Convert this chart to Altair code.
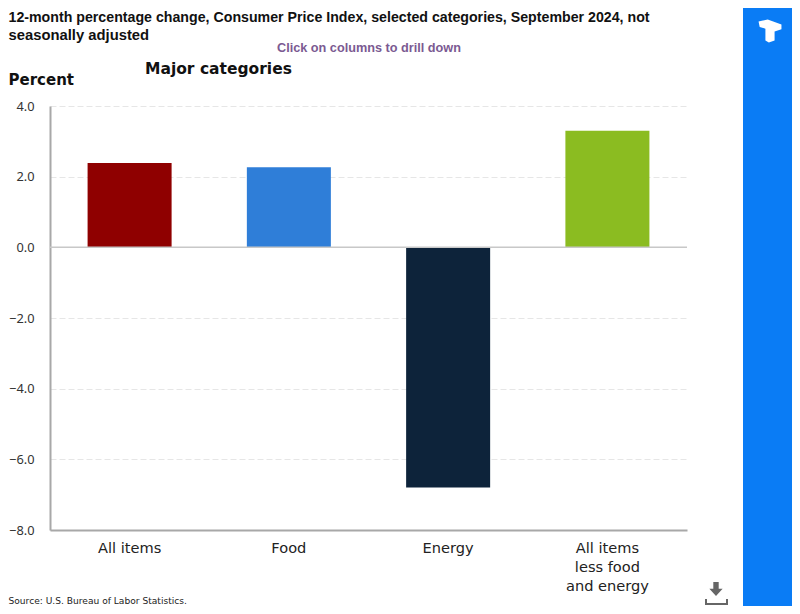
import altair as alt
import pandas as pd

categories = ["All items", "Food", "Energy", "All items|less food|and energy"]
values = [2.39, 2.27, -6.8, 3.3]
colors = ["#8f0000", "#2f7ed8", "#0d233a", "#8bbc21"]
y_ticks = [4, 2, 0, -2, -4, -6, -8]

W, H = 637, 424
L, T = 42, 98

df = pd.DataFrame({"category": categories, "value": values, "color": colors})

bars = alt.Chart(df).mark_bar().encode(
    x=alt.X("category:N", sort=categories, title=None,
            scale=alt.Scale(paddingInner=0.4725, paddingOuter=0.236),
            axis=alt.Axis(labelAngle=0, ticks=False, domainColor="#a8a8a8", domainWidth=2,
                          labelFont="DejaVu Sans", labelFontSize=14.6, labelColor="#222222",
                          labelPadding=10, labelLineHeight=19, labelBaseline="top",
                          labelExpr="split(datum.label, '|')")),
    y=alt.Y("value:Q", title=None,
            scale=alt.Scale(domain=[-8, 4], nice=False),
            axis=alt.Axis(values=y_ticks, format=".1f", ticks=False, domainColor="#a8a8a8", domainWidth=2,
                          labelFont="Noto Sans", labelFontSize=12.8, labelColor="#333333", labelPadding=16,
                          grid=True, gridColor="#e6e6e6", gridDash=[6, 3], gridWidth=1)),
    color=alt.Color("color:N", scale=None),
)

zero = alt.Chart(pd.DataFrame({"z": [0]})).mark_rule(color="#c8c8c8", strokeWidth=1.5).encode(y="z:Q")


def text(label, x, y, **kw):
    return alt.Chart(pd.DataFrame({"t": [label]})).mark_text(align="left", baseline="alphabetic", **kw).encode(
        text="t:N", x=alt.value(x - 50), y=alt.value(y - 106))


title_kw = dict(font="Liberation Sans", fontWeight="bold", color="#111111")
texts = [
    text("12-month percentage change, Consumer Price Index, selected categories, September 2024, not", 8.5, 22, fontSize=14.2, **title_kw),
    text("seasonally adjusted", 8.5, 40, fontSize=14.8, **title_kw),
    text("Click on columns to drill down", 277, 52, font="Liberation Sans", fontWeight="bold", fontSize=12.7, color="#7b5a92"),
    text("Major categories", 145, 74, font="DejaVu Sans", fontWeight="bold", fontSize=15.5, color="#111111"),
    text("Percent", 8.5, 85, font="DejaVu Sans", fontWeight="bold", fontSize=15, color="#111111"),
    text("Source: U.S. Bureau of Labor Statistics.", 8.5, 604, font="DejaVu Sans", fontSize=9.1, color="#222222"),
]

panel = alt.Chart(pd.DataFrame({"p": [0]})).mark_rect(color="#0a7cf5").encode(
    x=alt.value(743 - 50), x2=alt.value(800 - 50), y=alt.value(-106), y2=alt.value(614 - 106))

logo = alt.Chart(pd.DataFrame({"p": [0]})).mark_point(
    filled=True, opacity=1, color="white", size=2100,
    shape="M-0.5,-0.42 L-0.1,-0.5 L0.5,-0.28 L0.5,-0.08 L0.2,0.02 L0.2,0.42 L-0.05,0.5 L-0.2,0.42 L-0.2,-0.1 L-0.45,-0.18 Z",
).encode(x=alt.value(770 - 50), y=alt.value(31 - 106))

arrow = alt.Chart(pd.DataFrame({"p": [0]})).mark_point(
    filled=True, opacity=1, color="#666666", size=1000,
    shape="M-0.17,-0.5 L0.17,-0.5 L0.17,-0.08 L0.42,-0.08 L0,0.38 L-0.42,-0.08 L-0.17,-0.08 Z",
).encode(x=alt.value(716 - 50), y=alt.value(590 - 106))

tray = alt.Chart(pd.DataFrame({"p": [0]})).mark_rule(color="#666666", strokeWidth=2).encode(
    x=alt.value(705 - 50), x2=alt.value(728 - 50), y=alt.value(604 - 106))
tray_l = alt.Chart(pd.DataFrame({"p": [0]})).mark_rule(color="#666666", strokeWidth=2).encode(
    x=alt.value(706 - 50), y=alt.value(599 - 106), y2=alt.value(604 - 106))
tray_r = alt.Chart(pd.DataFrame({"p": [0]})).mark_rule(color="#666666", strokeWidth=2).encode(
    x=alt.value(727 - 50), y=alt.value(599 - 106), y2=alt.value(604 - 106))

chart = alt.layer(bars, zero, *texts, panel, logo, arrow, tray, tray_l, tray_r).properties(
    width=W, height=H,
    autosize=alt.AutoSizeParams(type="none"),
    padding={"left": L, "top": T, "right": 105, "bottom": 76},
    background="white",
).configure_view(stroke=None)

chart.save("out.html", embed_options={"renderer": "svg", "actions": False})
